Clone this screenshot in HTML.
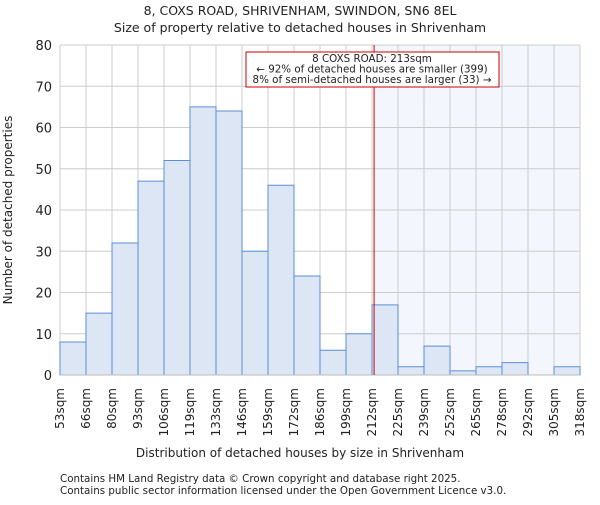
<!DOCTYPE html>
<html><head><meta charset="utf-8"><style>
body{margin:0;background:#fff}
svg text{font-family:"DejaVu Sans","Liberation Sans",sans-serif;fill:#222}
</style></head><body>
<svg width="600" height="500" id="c">
<text x="300" y="15" font-size="12.5" text-anchor="middle">8, COXS ROAD, SHRIVENHAM, SWINDON, SN6 8EL</text>
<text x="300" y="32" font-size="12.5" text-anchor="middle">Size of property relative to detached houses in Shrivenham</text>
<g id="plot"></g>
<text x="300" y="457" font-size="12" text-anchor="middle">Distribution of detached houses by size in Shrivenham</text>
<text transform="translate(12,210) rotate(-90)" font-size="12" text-anchor="middle">Number of detached properties</text>
<text x="60" y="482" font-size="10.3" fill="#444">Contains HM Land Registry data © Crown copyright and database right 2025.</text>
<text x="60" y="494" font-size="10.3" fill="#444">Contains public sector information licensed under the Open Government Licence v3.0.</text>
</svg>
<script>
const categories=["53sqm","66sqm","80sqm","93sqm","106sqm","119sqm","133sqm","146sqm","159sqm","172sqm","186sqm","199sqm","212sqm","225sqm","239sqm","252sqm","265sqm","278sqm","292sqm","305sqm","318sqm"];
const counts=[8,15,32,47,52,65,64,30,46,24,6,10,17,2,7,1,2,3,0,2];
const yTicks=[0,10,20,30,40,50,60,70,80];
const propertyBin=12.08;
const X0=60,X1=580,Y0=375,Y1=45,YMAX=80;
const bw=(X1-X0)/counts.length;
const xs=i=>X0+i*bw;
const ys=v=>Y0-(v/YMAX)*(Y0-Y1);
const NS="http://www.w3.org/2000/svg";
const g=document.getElementById('plot');
function mk(t,a,p){const e=document.createElementNS(NS,t);for(const k in a)e.setAttribute(k,a[k]);(p||g).appendChild(e);return e;}
const px=xs(propertyBin);
let sh=mk('rect',{x:px,y:Y1,width:X1-px,height:Y0-Y1,fill:'#f3f6fd'});


yTicks.forEach(t=>{
 let l=mk('line',{x1:X0,x2:X1,y1:ys(t),y2:ys(t),stroke:'#ccc'});
 
 
 let tx=mk('text',{x:X0-8,y:ys(t)+5,'font-size':13,'text-anchor':'end'});
 tx.textContent=t;
 
 
});
categories.forEach((c,i)=>{
 let l=mk('line',{x1:xs(i),x2:xs(i),y1:Y1,y2:Y0,stroke:'#ccc'});
 
 
 let tx=mk('text',{transform:`translate(${xs(i)+4},388) rotate(-90)`,'font-size':12,'text-anchor':'end'});
 tx.textContent=c;
 
 
});
counts.forEach((v,i)=>{
 if(v<=0)return;
 let r=mk('rect',{x:xs(i),y:ys(v),width:bw,height:Y0-ys(v),fill:'#dde6f4',stroke:'#5b8fd8','stroke-width':1});
 
 
});
let ax=mk('line',{x1:X0,x2:X1,y1:Y0,y2:Y0,stroke:'#bbb'});


let rl=mk('line',{x1:px,x2:px,y1:Y1,y2:Y0,stroke:'#cc0000','stroke-width':1});


let box=mk('rect',{x:246,y:52,width:253,height:35,fill:'#fff',stroke:'#cc0000'});


["8 COXS ROAD: 213sqm","← 92% of detached houses are smaller (399)","8% of semi-detached houses are larger (33) →"].forEach((s,i)=>{
 let t=mk('text',{x:372,y:62+i*10.5,'font-size':10.3,'text-anchor':'middle'});
 t.textContent=s;
 
 
});
</script>
</body></html>
